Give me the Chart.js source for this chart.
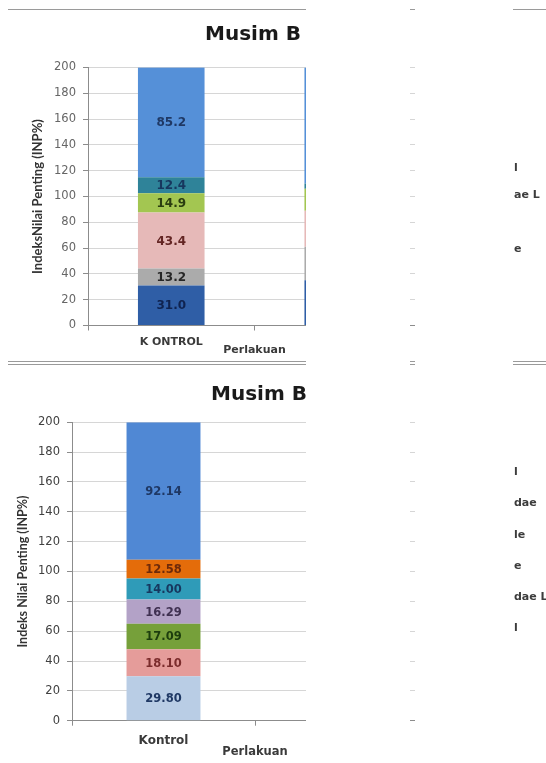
<!DOCTYPE html>
<html><head><meta charset="utf-8">
<script src="https://cdn.jsdelivr.net/npm/chart.js@4.4.1/dist/chart.umd.min.js"></script>
<style>
html,body{margin:0;padding:0;width:546px;height:763px;overflow:hidden;background:#fff;}
body{position:relative;font-family:"DejaVu Sans",sans-serif;}
canvas{position:absolute;left:0;}
.rule{position:absolute;left:8px;width:560px;height:0;border-top:1px solid #9a9a9a;z-index:2;}
.cover{position:absolute;top:0;height:763px;background:#fff;z-index:5;}
.title{position:absolute;font:bold 20px "DejaVu Sans";line-height:20px;color:#1a1a1a;white-space:nowrap;z-index:3;}
.leg{position:absolute;left:514px;font:bold 11px "DejaVu Sans";color:#3c3c3c;z-index:6;white-space:nowrap;line-height:12px;}
</style></head>
<body>
<div class="rule" style="top:9px"></div>
<div class="rule" style="top:361px"></div>
<div class="rule" style="top:364px"></div>
<div class="title" style="left:205px;top:23px">Musim B</div>
<div class="title" style="left:211px;top:383px">Musim B</div>
<canvas id="c1" width="546" height="360" style="top:0;width:546px;height:360px"></canvas>
<canvas id="c2" width="546" height="403" style="top:360px;width:546px;height:403px"></canvas>
<div class="cover" style="left:306px;width:104px"></div>
<div class="cover" style="left:415px;width:98px"></div>
<div class="leg" style="top:162px">l</div>
<div class="leg" style="top:189px">ae L</div>
<div class="leg" style="top:243px">e</div>
<div class="leg" style="top:466px">l</div>
<div class="leg" style="top:497px">dae</div>
<div class="leg" style="top:529px">le</div>
<div class="leg" style="top:560px">e</div>
<div class="leg" style="top:591px">dae L</div>
<div class="leg" style="top:622px">l</div>
<script>
// ---- data ----
const yTickValues = [0, 20, 40, 60, 80, 100, 120, 140, 160, 180, 200];

const topCategories = ['K ONTROL', ''];
const topValues1 = [31.0, 35];
const topValues2 = [13.2, 26];
const topValues3 = [43.4, 28];
const topValues4 = [14.9, 17];
const topValues5 = [12.4, 4];
const topValues6 = [85.2, 90];

const bottomCategories = ['Kontrol', ''];
const bottomValues1 = [29.80, null];
const bottomValues2 = [18.10, null];
const bottomValues3 = [17.09, null];
const bottomValues4 = [16.29, null];
const bottomValues5 = [14.00, null];
const bottomValues6 = [12.58, null];
const bottomValues7 = [92.14, null];

// ---- styles ----
const topFill = ['#2f5ea6', '#ababab', '#e6b9b8', '#a3c651', '#2f8399', '#5590d8'];
const topText = ['#0f2350', '#262626', '#632523', '#2a3d10', '#17375e', '#1f3864'];
const bottomFill = ['#b9cde5', '#e59c9a', '#76a03a', '#b3a2c7', '#2f9bb8', '#e46c0a', '#5088d4'];
const bottomText = ['#1f3864', '#7b2c2c', '#1c3d0d', '#403152', '#17375e', '#6e2a0a', '#1f3864'];

const valueLabels = {
  id: 'valueLabels',
  afterDatasetsDraw(chart, args, opts) {
    const ctx = chart.ctx;
    ctx.save();
    ctx.font = opts.font;
    ctx.textAlign = 'center';
    ctx.textBaseline = 'middle';
    chart.data.datasets.forEach((ds, i) => {
      const meta = chart.getDatasetMeta(i);
      meta.data.forEach((el, j) => {
        const v = ds.data[j];
        if (v == null) return;
        const p = el.getProps(['x', 'y', 'base'], true);
        ctx.fillStyle = ds.labelColor;
        ctx.fillText(v.toFixed(opts.decimals), p.x, (p.y + p.base) / 2 + 1);
      });
    });
    ctx.restore();
  }
};

function makeChart(id, cats, seriesList, fills, texts, cfg) {
  const datasets = seriesList.map((vals, i) => ({
    data: vals,
    backgroundColor: fills[i],
    labelColor: texts[i],
    borderWidth: 0,
    barPercentage: cfg.barPct,
    categoryPercentage: 1.0,
    stack: 's'
  }));
  return new Chart(document.getElementById(id), {
    type: 'bar',
    data: { labels: cats, datasets },
    plugins: [valueLabels],
    options: {
      responsive: false,
      animation: false,
      devicePixelRatio: 1,
      layout: { padding: cfg.padding },
      plugins: {
        legend: { display: false },
        tooltip: { enabled: false },
        valueLabels: { font: cfg.labelFont, decimals: cfg.decimals }
      },
      scales: {
        x: {
          stacked: true,
          afterFit: s => { s.height = cfg.xHeight; },
          grid: { drawOnChartArea: false, tickLength: 5, tickColor: '#8c8c8c' },
          border: { color: '#8c8c8c' },
          ticks: { font: cfg.xTickFont, color: '#3a3a3a', padding: cfg.xTickPad, maxRotation: 0 },
          title: { display: true, text: 'Perlakuan', font: cfg.xTitleFont, color: '#3a3a3a',
                   padding: { top: 0, bottom: cfg.xTitlePad } }
        },
        y: {
          stacked: true,
          min: 0, max: 200,
          afterFit: s => { s.width = cfg.yWidth; },
          afterBuildTicks: s => { s.ticks = yTickValues.map(v => ({ value: v })); },
          grid: { color: '#d6d6d6', tickLength: 5, tickColor: '#8c8c8c' },
          border: { color: '#8c8c8c' },
          ticks: { font: cfg.yTickFont, color: cfg.yTickColor, padding: 7 },
          title: { display: true, text: cfg.yTitle, font: cfg.yTitleFont, color: '#333333',
                   padding: { top: cfg.yTitlePad, bottom: 0 } }
        }
      }
    }
  });
}

makeChart('c1', topCategories,
  [topValues1, topValues2, topValues3, topValues4, topValues5, topValues6],
  topFill, topText, {
    barPct: 0.4,
    padding: { top: 67.5, right: 125, bottom: 3.5, left: 0 },
    xHeight: 31, yWidth: 88,
    xTickFont: { family: 'DejaVu Sans', size: 11, weight: 'bold' }, xTickPad: 5,
    xTitleFont: { family: 'DejaVu Sans', size: 11, weight: 'bold' }, xTitlePad: 0,
    yTickFont: { family: 'DejaVu Sans', size: 11.5 }, yTickColor: '#666666',
    yTitle: 'IndeksNilai Penting (INP%)',
    yTitleFont: { family: 'Lato', size: 13, weight: 'bold' }, yTitlePad: 30,
    labelFont: 'bold 12px "DejaVu Sans"', decimals: 1
  });

makeChart('c2', bottomCategories,
  [bottomValues1, bottomValues2, bottomValues3, bottomValues4, bottomValues5, bottomValues6, bottomValues7],
  bottomFill, bottomText, {
    barPct: 0.404,
    padding: { top: 62.3, right: 108, bottom: 3.8, left: 0 },
    xHeight: 38.5, yWidth: 72,
    xTickFont: { family: 'DejaVu Sans', size: 12, weight: 'bold' }, xTickPad: 8,
    xTitleFont: { family: 'DejaVu Sans', size: 11.5, weight: 'bold' }, xTitlePad: 0,
    yTickFont: { family: 'DejaVu Sans', size: 11.5 }, yTickColor: '#404040',
    yTitle: 'Indeks Nilai Penting (INP%)',
    yTitleFont: { family: 'Lato', size: 12.5, weight: 'bold' }, yTitlePad: 15,
    labelFont: 'bold 11.5px "DejaVu Sans"', decimals: 2
  });
</script>
</body></html>
